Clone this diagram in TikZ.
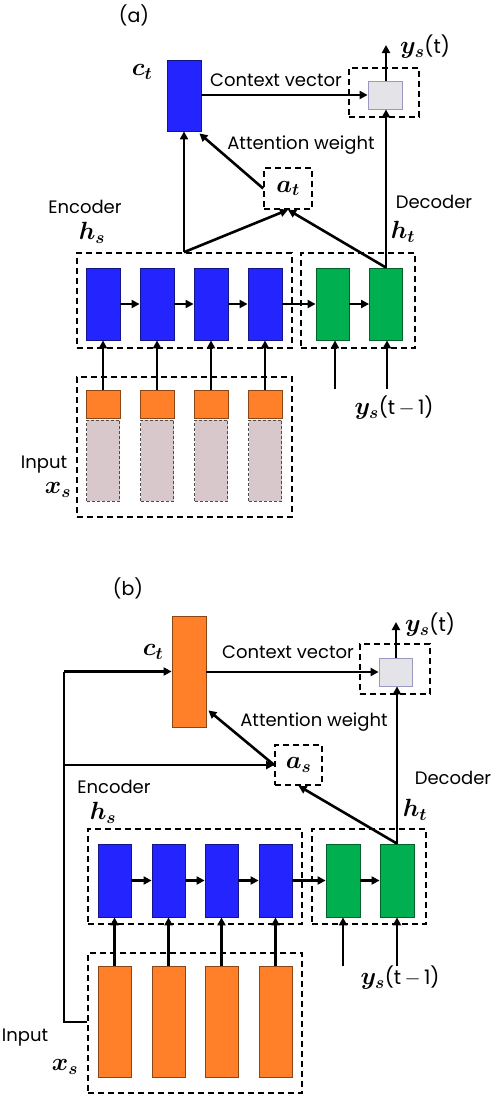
\documentclass[tikz,border=0pt]{standalone}
\usepackage{fontspec}
\setmainfont{Poppins}
\usetikzlibrary{arrows.meta,calc}
\definecolor{blu}{RGB}{36,36,255}
\definecolor{grn}{RGB}{0,176,80}
\definecolor{org}{RGB}{255,128,40}
\definecolor{gry}{RGB}{228,228,232}
\definecolor{pnk}{RGB}{216,200,204}
\newcommand{\mfs}{\fontsize{24}{27}\selectfont\boldmath}
\newcommand{\yfs}{\fontsize{20}{24}\selectfont}
\tikzset{
  cell/.style={draw=#1!55!black, fill=#1, line width=0.8pt, inner sep=0pt, minimum width=34pt, minimum height=72pt},
  pinkcell/.style={draw=black!70, fill=pnk, line width=0.9pt, dash pattern=on 3pt off 2pt, inner sep=0pt, minimum width=33pt, minimum height=81pt},
  dbox/.style={draw=black, line width=1.6pt, dash pattern=on 6pt off 4pt, inner sep=0pt},
  arr/.style={line width=2.6pt, -{Triangle[length=8pt,width=8pt]}},
  ln/.style={line width=2.6pt},
  lbl/.style={font=\fontsize{18}{21}\selectfont, inner sep=0pt},
  mth/.style={font=\mfs, inner sep=0pt},
  ttl/.style={font=\fontsize{19}{22}\selectfont, inner sep=0pt}
}
\begin{document}
\begin{tikzpicture}[x=1pt,y=-1pt]
\useasboundingbox (0,0) rectangle (498,1096);
% ===================== (a) =====================
\node[ttl] (ta) at (134,15) {(a)};
% dashed frames
\node[dbox, minimum width=215pt, minimum height=95pt] (encA) at (184.5,300.5) {};
\node[dbox, minimum width=114pt, minimum height=95pt] (decA) at (358,300.5) {};
\node[dbox, minimum width=215pt, minimum height=140pt] (inA) at (184.5,447) {};
\node[dbox, minimum width=70pt, minimum height=49pt] (outboxA) at (384,92.5) {};
\node[dbox, minimum width=48pt, minimum height=41pt, font=\mfs] (atA) at (288,188.5) {$a_t$};
% cells
\node[cell=blu, minimum height=71pt] (ctA) at (184,95.5) {};
\node[draw=black!60!blue!40, fill=gry, line width=0.8pt, minimum width=34pt, minimum height=28pt, inner sep=0pt] (grayA) at (385,95) {};
\foreach \i/\x in {1/103,2/157,3/211,4/265}{
  \node[cell=blu] (bA\i) at (\x,304) {};
  \node[cell=org, minimum height=28pt] (oA\i) at (\x,404) {};
  \node[pinkcell] (pA\i) at (\x,460.5) {};
}
\node[cell=grn, minimum width=33pt] (gA1) at (332.5,304) {};
\node[cell=grn, minimum width=33pt] (gA2) at (386,304) {};
% connectors
\draw[arr] (bA1.east) -- (bA2.west);
\draw[arr] (bA2.east) -- (bA3.west);
\draw[arr] (bA3.east) -- (bA4.west);
\draw[arr] (bA4.east) -- (gA1.west);
\draw[arr] (gA1.east) -- (gA2.west);
\foreach \i in {1,...,4}{ \draw[arr] (oA\i.north) -- (bA\i.south); }
\coordinate (dinA1) at (335,389);
\coordinate (dinA2) at (387,389);
\draw[arr] (dinA1) -- (dinA1 |- gA1.south);
\draw[arr] (dinA2) -- (dinA2 |- gA2.south);
\coordinate (jA) at (ctA.south |- encA.north);
\draw[arr] (jA) -- (ctA.south);
\draw[arr] (jA) -- (atA.south);
\draw[arr] (gA2.north) -- (atA.south);
\draw[arr] (gA2.north) -- (gA2.north |- grayA.south);
\draw[arr] (atA.west) -- ($(ctA.south east)+(-2,2)$);
\draw[arr] (ctA.east |- grayA.west) -- (grayA.west);
\coordinate (outA) at (386,45);
\draw[arr] (grayA.north -| outA) -- (outA);
% labels
\node[mth] (ctlA) at (142,72) {$c_t$};
\node[lbl] (cvA) at (276,80) {Context vector};
\node[lbl] (ystA) at (425,47) {\yfs{\mfs$y_s$}(t)};
\node[lbl] (awA) at (301,145) {Attention weight};
\node[lbl] (encLA) at (85,207) {Encoder};
\node[mth] (hsA) at (92,233) {$h_s$};
\node[lbl] (decLA) at (434,202) {Decoder};
\node[mth] (htA) at (403,232) {$h_t$};
\node[lbl] (ysmA) at (394,408) {\yfs{\mfs$y_s$}(t\,$-$\,1)};
\node[lbl] (inLA) at (44,465) {Input};
\node[mth] (xsA) at (58,490) {$x_s$};
% ===================== (b) =====================
\node[ttl] (tb) at (128,588) {(b)};
\node[dbox, minimum width=214pt, minimum height=95pt] (encB) at (195,876.5) {};
\node[dbox, minimum width=114pt, minimum height=95pt] (decB) at (369,876.5) {};
\node[dbox, minimum width=214pt, minimum height=140pt] (inB) at (195,1023) {};
\node[dbox, minimum width=70pt, minimum height=50pt] (outboxB) at (395,669) {};
\node[dbox, minimum width=47pt, minimum height=40pt, font=\mfs] (asB) at (298.5,765) {$a_s$};
\node[cell=org, minimum height=111pt] (ctB) at (189,671.5) {};
\node[draw=black!60!blue!40, fill=gry, line width=0.8pt, minimum width=33pt, minimum height=28pt, inner sep=0pt] (grayB) at (395.5,672) {};
\foreach \i/\x in {1/114.5,2/168.5,3/221.5,4/275.5}{
  \node[cell=blu, minimum width=33pt, minimum height=73pt] (bB\i) at (\x,880.5) {};
  \node[cell=org, minimum width=33pt, minimum height=111pt] (oB\i) at (\x,1021.5) {};
}
\node[cell=grn, minimum width=34pt, minimum height=73pt] (gB1) at (343,880.5) {};
\node[cell=grn, minimum width=34pt, minimum height=73pt] (gB2) at (397,880.5) {};
\draw[arr] (bB1.east) -- (bB2.west);
\draw[arr] (bB2.east) -- (bB3.west);
\draw[arr] (bB3.east) -- (bB4.west);
\draw[arr] (bB4.east) -- (gB1.west);
\draw[arr] (gB1.east) -- (gB2.west);
\foreach \i in {1,...,4}{ \draw[arr] (oB\i.north) -- (bB\i.south); }
\coordinate (dinB1) at (343,966);
\coordinate (dinB2) at (397,966);
\draw[arr] (dinB1) -- (dinB1 |- gB1.south);
\draw[arr] (dinB2) -- (dinB2 |- gB2.south);
\draw[arr] (gB2.north) -- (asB.south);
\draw[arr] (gB2.north) -- (gB2.north |- grayB.south);
\draw[arr] (asB.west) -- ($(ctB.south east)+(2,-17)$);
\draw[arr] (ctB.east |- grayB.west) -- (grayB.west);
\coordinate (outB) at (396,622);
\draw[arr] (grayB.north -| outB) -- (outB);
% left feed line
\coordinate (lc) at (64,1022);
\draw[ln, line join=miter] (inB.west |- lc) -- (lc) -- (lc |- ctB.west);
\draw[arr] (lc |- ctB.west) -- (ctB.west);
\draw[arr] (lc |- asB.west) -- (asB.west);
% labels
\node[mth] (ctlB) at (153,652) {$c_t$};
\node[lbl] (cvB) at (288,652) {Context vector};
\node[lbl] (ystB) at (430,625) {\yfs{\mfs$y_s$}(t)};
\node[lbl] (awB) at (314,722) {Attention weight};
\node[lbl] (encLB) at (114,787) {Encoder};
\node[mth] (hsB) at (103,813) {$h_s$};
\node[lbl] (decLB) at (453,778) {Decoder};
\node[mth] (htB) at (415,810) {$h_t$};
\node[lbl] (ysmB) at (400,978) {\yfs{\mfs$y_s$}(t\,$-$\,1)};
\node[lbl] (inLB) at (25,1038) {Input};
\node[mth] (xsB) at (65,1067) {$x_s$};
\end{tikzpicture}
\end{document}
